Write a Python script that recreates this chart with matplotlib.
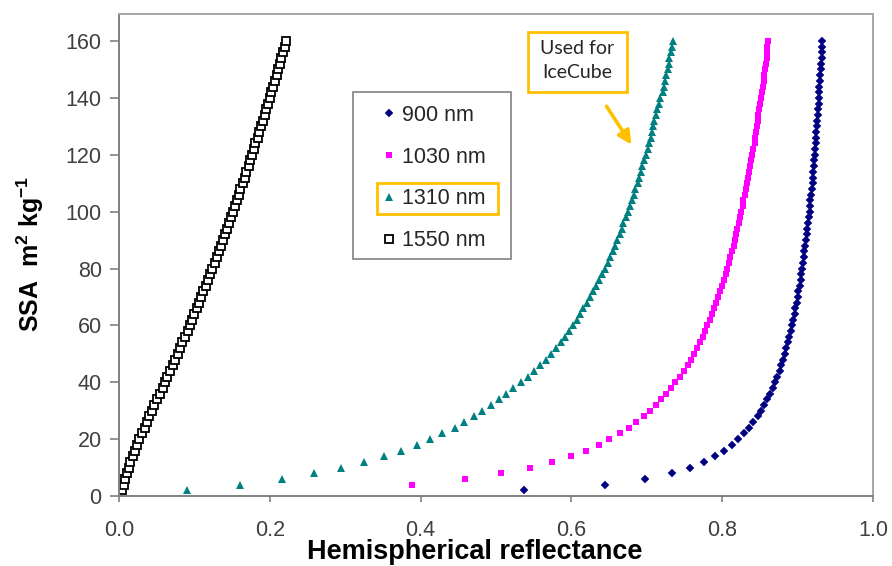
import matplotlib
matplotlib.use("Agg")
import matplotlib.pyplot as plt
from matplotlib.patches import Rectangle, FancyArrowPatch

plt.rcParams['font.family'] = ['Liberation Sans', 'DejaVu Sans']
plt.rcParams['mathtext.fontset'] = 'custom'
plt.rcParams['mathtext.rm'] = 'Liberation Sans'
plt.rcParams['mathtext.bf'] = 'Liberation Sans:bold'

# ---------------- data ----------------
SSA = [2, 4, 6, 8, 10, 12, 14, 16, 18, 20,
       22, 24, 26, 28, 30, 32, 34, 36, 38, 40,
       42, 44, 46, 48, 50, 52, 54, 56, 58, 60,
       62, 64, 66, 68, 70, 72, 74, 76, 78, 80,
       82, 84, 86, 88, 90, 92, 94, 96, 98, 100,
       102, 104, 106, 108, 110, 112, 114, 116, 118, 120,
       122, 124, 126, 128, 130, 132, 134, 136, 138, 140,
       142, 144, 146, 148, 150, 152, 154, 156, 158, 160]

R_900 = [0.537, 0.644, 0.698, 0.733, 0.757, 0.776, 0.790, 0.803, 0.813, 0.821,
         0.829, 0.836, 0.841, 0.847, 0.852, 0.856, 0.860, 0.864, 0.867, 0.870,
         0.873, 0.876, 0.878, 0.881, 0.883, 0.885, 0.887, 0.889, 0.891, 0.893,
         0.894, 0.896, 0.897, 0.899, 0.900, 0.901, 0.903, 0.904, 0.905, 0.906,
         0.907, 0.908, 0.909, 0.910, 0.911, 0.912, 0.913, 0.914, 0.915, 0.916,
         0.917, 0.917, 0.918, 0.919, 0.920, 0.920, 0.921, 0.922, 0.922, 0.923,
         0.923, 0.924, 0.925, 0.925, 0.926, 0.926, 0.927, 0.927, 0.928, 0.928,
         0.929, 0.929, 0.930, 0.930, 0.931, 0.931, 0.932, 0.932, 0.932, 0.933]

SSA_1030 = SSA[1:]
R_1030 = [0.389, 0.459, 0.507, 0.545, 0.574, 0.599, 0.619, 0.636, 0.650,
          0.664, 0.676, 0.686, 0.696, 0.704, 0.712, 0.719, 0.726, 0.732, 0.737,
          0.744, 0.749, 0.754, 0.758, 0.762, 0.766, 0.770, 0.774, 0.777, 0.780,
          0.784, 0.787, 0.789, 0.792, 0.795, 0.797, 0.800, 0.802, 0.805, 0.807,
          0.809, 0.811, 0.813, 0.815, 0.817, 0.818, 0.820, 0.822, 0.824, 0.825,
          0.827, 0.828, 0.830, 0.831, 0.833, 0.834, 0.835, 0.837, 0.838, 0.839,
          0.841, 0.843, 0.844, 0.845, 0.846, 0.847, 0.848, 0.849, 0.850, 0.851,
          0.853, 0.854, 0.855, 0.856, 0.857, 0.858, 0.859, 0.859, 0.860, 0.861]

R_1310 = [0.090, 0.161, 0.216, 0.259, 0.295, 0.325, 0.351, 0.374, 0.395, 0.413,
          0.429, 0.445, 0.458, 0.471, 0.482, 0.493, 0.504, 0.513, 0.523, 0.533,
          0.543, 0.551, 0.559, 0.566, 0.573, 0.580, 0.586, 0.592, 0.597, 0.602,
          0.607, 0.612, 0.616, 0.621, 0.625, 0.629, 0.633, 0.637, 0.641, 0.644,
          0.648, 0.651, 0.655, 0.658, 0.661, 0.664, 0.667, 0.669, 0.672, 0.675,
          0.678, 0.680, 0.683, 0.685, 0.688, 0.690, 0.692, 0.694, 0.696, 0.699,
          0.701, 0.703, 0.705, 0.707, 0.708, 0.710, 0.712, 0.714, 0.716, 0.717,
          0.721, 0.723, 0.724, 0.726, 0.728, 0.729, 0.730, 0.732, 0.733, 0.735]

R_1550 = [0.004, 0.006, 0.008, 0.010, 0.013, 0.015, 0.018, 0.021, 0.024, 0.027,
          0.030, 0.034, 0.037, 0.040, 0.044, 0.047, 0.051, 0.054, 0.058, 0.061,
          0.064, 0.068, 0.071, 0.074, 0.078, 0.081, 0.084, 0.088, 0.091, 0.094,
          0.097, 0.100, 0.103, 0.106, 0.109, 0.112, 0.115, 0.118, 0.121, 0.124,
          0.127, 0.130, 0.132, 0.135, 0.138, 0.140, 0.143, 0.146, 0.148, 0.151,
          0.154, 0.156, 0.159, 0.161, 0.164, 0.167, 0.169, 0.172, 0.174, 0.177,
          0.179, 0.181, 0.184, 0.186, 0.188, 0.191, 0.193, 0.195, 0.198, 0.200,
          0.202, 0.204, 0.207, 0.209, 0.211, 0.213, 0.215, 0.218, 0.220, 0.222]

LABELS = ['900 nm', '1030 nm', '1310 nm', '1550 nm']
X_TICKS = [0.0, 0.2, 0.4, 0.6, 0.8, 1.0]
Y_TICKS = [0, 20, 40, 60, 80, 100, 120, 140, 160]

# ---------------- figure ----------------
W, H = 892, 566
fig = plt.figure(figsize=(W / 100, H / 100), dpi=100)

def fx(px):
    return px / W

def fy(py):
    return 1 - py / H

ax = fig.add_axes([fx(119), fy(496), fx(873) - fx(119), fy(14) - fy(496)])

ax.plot(R_900, SSA, linestyle='none', marker='D', markersize=3.6,
        color='#000080', markeredgewidth=0.3, label=LABELS[0])
ax.plot(R_1030, SSA_1030, linestyle='none', marker='s', markersize=4.3,
        color='#FF00FF', markeredgewidth=0, label=LABELS[1])
ax.plot(R_1310, SSA, linestyle='none', marker='^', markersize=5.3,
        color='#008080', markeredgewidth=0, label=LABELS[2])
ax.plot(R_1550, SSA, linestyle='none', marker='s', markersize=5.5,
        markerfacecolor='white', markeredgecolor='black',
        markeredgewidth=1.3, label=LABELS[3])

ax.set_xlim(0, 1.0)
ax.set_ylim(0, 169.5)
ax.set_xticks(X_TICKS)
ax.set_xticklabels(['%.1f' % v for v in X_TICKS])
ax.set_yticks(Y_TICKS)
ax.tick_params(axis='both', colors='#808080', labelcolor='#404040',
               labelsize=15.5, direction='out', width=1.2)
ax.tick_params(axis='x', length=4, pad=13)
ax.tick_params(axis='y', length=6.5, pad=6)

for side in ['left', 'bottom']:
    ax.spines[side].set_color('#808080')
    ax.spines[side].set_linewidth(1.4)
for side in ['top', 'right']:
    ax.spines[side].set_color('#A6A6A6')
    ax.spines[side].set_linewidth(1.4)

# axis labels
fig.text(fx(475), fy(559), 'Hemispherical reflectance', fontsize=19.5,
         fontweight='bold', ha='center', va='baseline', color='black')
fig.text(fx(30), fy(254), r'SSA  m$^\mathbf{2}$ kg$^\mathbf{-1}$',
         fontsize=18, fontweight='bold', rotation=90, ha='center',
         va='center', color='black')

# legend (entries without frame; frame drawn separately as outline)
fs = 15.5
em = fs * 100 / 72.0
leg = ax.legend(loc='center left', bbox_to_anchor=(fx(382.5), fy(178)),
                bbox_transform=fig.transFigure, frameon=False,
                fontsize=fs, handlelength=0.6, handletextpad=6.6 / em,
                labelspacing=0.97, borderpad=0, borderaxespad=0,
                markerscale=1.0)
for t in leg.get_texts():
    t.set_color('#262626')
fig.patches.append(Rectangle((fx(353), fy(259)), fx(511) - fx(353),
                             fy(92) - fy(259), transform=fig.transFigure,
                             fill=False, edgecolor='#808080',
                             linewidth=1.2, zorder=1))

fig.canvas.draw()
renderer = fig.canvas.get_renderer()
bb = leg.get_texts()[2].get_window_extent(renderer)
# orange box around the 1310 nm entry
cy = 0.5 * (bb.y0 + bb.y1)
x0 = bb.x0 - 25
x1 = bb.x1 + 12
y0 = cy - 15.5
y1 = cy + 15.5
fig.patches.append(Rectangle((x0 / W, y0 / H), (x1 - x0) / W, (y1 - y0) / H,
                             transform=fig.transFigure, fill=False,
                             edgecolor='#FFC000', linewidth=2.0, zorder=10))

# "Used for IceCube" box
fig.patches.append(Rectangle((fx(528), fy(92)), fx(627) - fx(528),
                             fy(32) - fy(92), transform=fig.transFigure,
                             facecolor='white', edgecolor='#FFC000',
                             linewidth=2.0, zorder=10))
fig.text(fx(577), fy(48), 'Used for', fontsize=14, ha='center', va='center',
         color='#262626', family=['Lato', 'DejaVu Sans'], zorder=11)
fig.text(fx(577), fy(73), 'IceCube', fontsize=14, ha='center', va='center',
         color='#262626', family=['Lato', 'DejaVu Sans'], zorder=11)

arrow = FancyArrowPatch((fx(605), fy(104)), (fx(633), fy(147)),
                        transform=fig.transFigure, arrowstyle='-|>',
                        mutation_scale=20, color='#FFC000', linewidth=2.6,
                        zorder=10)
fig.patches.append(arrow)

fig.savefig('out.png', dpi=100)
